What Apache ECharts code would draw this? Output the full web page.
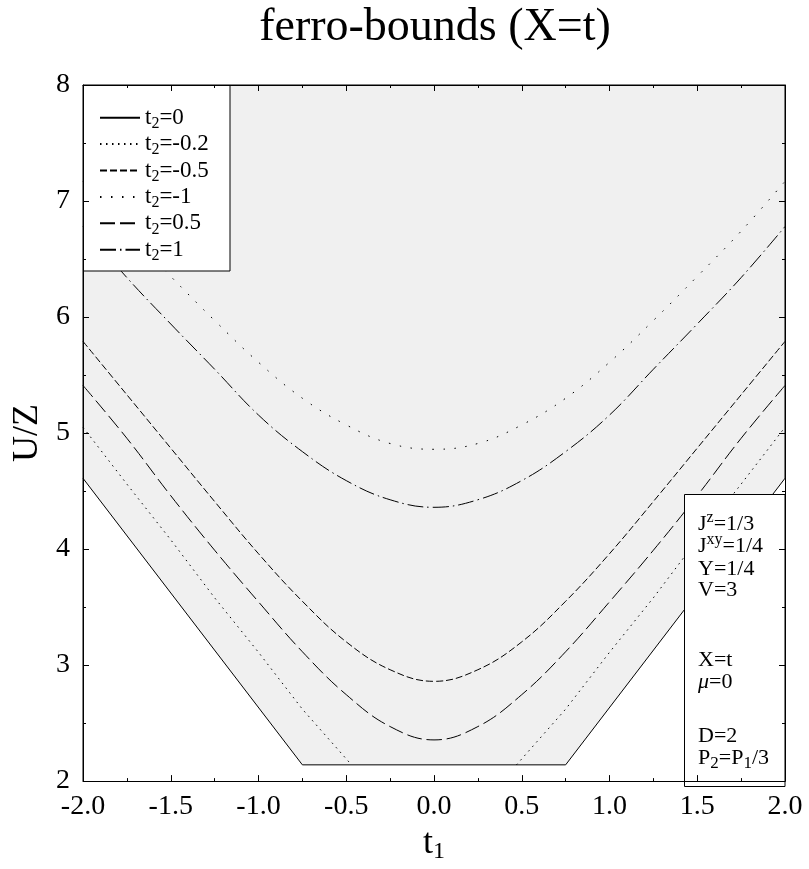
<!DOCTYPE html>
<html><head><meta charset="utf-8">
<script src="https://cdn.jsdelivr.net/npm/echarts@6/dist/echarts.min.js"></script>
<style>html,body{margin:0;padding:0;background:#fff}#c{width:809px;height:869px}</style>
</head><body><div id="c"></div>
<script>
const FONT = '"Liberation Serif","Times New Roman",serif';

// ---- data ----
const seriesNames = ['t2=0', 't2=-0.2', 't2=-0.5', 't2=-1', 't2=0.5', 't2=1'];

const t1Grid = [-2, -1.75, -1.5, -1.25, -1, -0.75, -0.5, -0.25, 0, 0.25, 0.5, 0.75, 1, 1.25, 1.5, 1.75, 2];

// t2 = 0 (solid, bounding line with flat floor)
const t1_t2_0 = [-2, -0.75, 0.75, 2];
const u_t2_0 = [4.61, 2.14, 2.14, 4.61];

// t2 = -0.2 (dense dotted, meets the floor)
const t1_t2_m02 = [-2, -1.75, -1.5, -1.25, -1, -0.75, -0.47, 0, 0.47, 0.75, 1, 1.25, 1.5, 1.75, 2];
const u_t2_m02 = [5.05, 4.56, 4.08, 3.58, 3.11, 2.62, 2.14, null, 2.14, 2.62, 3.11, 3.58, 4.08, 4.56, 5.05];

// t2 = -0.5 (short dashes)
const u_t2_m05 = [5.79, 5.33, 4.87, 4.41, 3.96, 3.55, 3.20, 2.96, 2.86, 2.96, 3.20, 3.55, 3.96, 4.41, 4.87, 5.33, 5.79];
// t2 = -1 (sparse dots)
const u_t2_m1 = [7.17, 6.74, 6.35, 5.97, 5.61, 5.30, 5.07, 4.91, 4.86, 4.91, 5.07, 5.30, 5.61, 5.97, 6.35, 6.74, 7.17];
// t2 = 0.5 (long dashes)
const u_t2_p05 = [5.41, 4.955, 4.46, 3.99, 3.545, 3.115, 2.745, 2.47, 2.355, 2.47, 2.745, 3.115, 3.545, 3.99, 4.46, 4.955, 5.41];
// t2 = 1 (dash-dot)
const u_t2_p1 = [6.78, 6.34, 5.94, 5.55, 5.155, 4.84, 4.59, 4.425, 4.36, 4.425, 4.59, 4.84, 5.155, 5.55, 5.94, 6.34, 6.78];

const xMin = -2, xMax = 2, xStep = 0.5;
const yMin = 2, yMax = 8, yStep = 1;

const titleText = 'ferro-bounds (X=t)';
const infoLines = [
  '{n|J}{sup|z}{n|=1/3}',
  '{n|J}{sup|xy}{n|=1/4}',
  '{n|Y=1/4}',
  '{n|V=3}',
  '{n|X=t}',
  '{i|μ}{n|=0}',
  '{n|D=2}',
  '{n|P}{sub|2}{n|=P}{sub|1}{n|/3}'
];
const infoY = [524, 546, 569, 590, 660, 682, 736, 758];

// ---- build ----
function pairs(xs, ys) { return xs.map((x, i) => [x, ys[i] == null ? '-' : ys[i]]); }

function mkSeries(name, data, dash, smooth, extra) {
  return Object.assign({
    name: name, type: 'line', data: data, symbol: 'none', showSymbol: false,
    smooth: smooth, connectNulls: false, clip: true, silent: true,
    lineStyle: { color: '#000', width: 1, type: dash, cap: 'butt' },
    itemStyle: { color: '#000' }
  }, extra || {});
}

const series = [
  mkSeries('t2=0', pairs(t1_t2_0, u_t2_0), 'solid', false, {
    areaStyle: { color: '#ffffff', opacity: 1, origin: 'start' }
  }),
  mkSeries('t2=-0.2', pairs(t1_t2_m02, u_t2_m02), [1.5, 4.5], false),
  mkSeries('t2=-0.5', pairs(t1Grid, u_t2_m05), [7, 3], 0.4),
  mkSeries('t2=-1', pairs(t1Grid, u_t2_m1), [1.5, 9.5], 0.4),
  mkSeries('t2=0.5', pairs(t1Grid, u_t2_p05), [15, 5], 0.4),
  mkSeries('t2=1', pairs(t1Grid, u_t2_p1), [16, 4, 1.5, 4], 0.4)
];

function axisCommon() {
  return {
    axisLine: { show: true, onZero: false, lineStyle: { color: '#000', width: 1 } },
    axisTick: { show: true, inside: true, length: 6, lineStyle: { color: '#000', width: 1 } },
    minorTick: { show: true, splitNumber: 2, length: 3, lineStyle: { color: '#000', width: 1 } },
    splitLine: { show: false }, minorSplitLine: { show: false }, z: 5
  };
}

const xBottom = Object.assign(axisCommon(), {
  type: 'value', min: xMin, max: xMax, interval: xStep, position: 'bottom',
  axisLabel: { show: true, margin: 12, fontSize: 28, color: '#000', fontFamily: FONT,
    formatter: v => v.toFixed(1) },
  name: '{t|t}{s|1}', nameLocation: 'middle', nameGap: 36,
  nameTextStyle: { color: '#000', fontFamily: FONT, rich: {
    t: { fontSize: 36, fontFamily: FONT, color: '#000' },
    s: { fontSize: 24, fontFamily: FONT, color: '#000', padding: [16, 0, 0, 0] } } }
});
const xTop = Object.assign(axisCommon(), {
  type: 'value', min: xMin, max: xMax, interval: xStep, position: 'top',
  axisLabel: { show: false }
});
const yLeft = Object.assign(axisCommon(), {
  type: 'value', min: yMin, max: yMax, interval: yStep, position: 'left',
  axisLabel: { show: true, margin: 13, fontSize: 28, color: '#000', fontFamily: FONT },
  name: 'U/Z', nameLocation: 'middle', nameRotate: 90, nameGap: 34,
  nameTextStyle: { fontSize: 36, color: '#000', fontFamily: FONT }
});
const yRight = Object.assign(axisCommon(), {
  type: 'value', min: yMin, max: yMax, interval: yStep, position: 'right',
  axisLabel: { show: false }
});

const legendRich = {
  t: { fontSize: 23, lineHeight: 26, fontFamily: FONT, color: '#000' },
  s: { fontSize: 16, lineHeight: 26, fontFamily: FONT, color: '#000', padding: [12, 0, 0, 0] }
};

const infoRich = {
  n: { fontSize: 22, fontFamily: FONT, fill: '#000', color: '#000' },
  i: { fontSize: 22, fontFamily: FONT, fontStyle: 'italic', fill: '#000', color: '#000' },
  sup: { fontSize: 16, fontFamily: FONT, fill: '#000', color: '#000', padding: [0, 0, 12, 0] },
  sub: { fontSize: 17, fontFamily: FONT, fill: '#000', color: '#000', padding: [12, 0, 0, 0] }
};

const graphics = [
  { type: 'text', x: 435, y: 28, z: 10,
    style: { text: titleText, fontSize: 46, fontFamily: FONT, fill: '#000', align: 'center', verticalAlign: 'middle' } },
  { type: 'rect', z: 5, shape: { x: 83.5, y: 85.5, width: 146.5, height: 185.5 },
    style: { fill: '#fff', stroke: '#000', lineWidth: 1 } },
  { type: 'rect', z: 5, shape: { x: 684.5, y: 494.5, width: 100.5, height: 292 },
    style: { fill: '#fff', stroke: '#000', lineWidth: 1 } }
];
infoLines.forEach((txt, k) => {
  graphics.push({ type: 'text', x: 698, y: infoY[k], z: 10,
    style: { text: txt, rich: infoRich, fontSize: 22, fontFamily: FONT, fill: '#000', align: 'left', verticalAlign: 'middle' } });
});

const chart = echarts.init(document.getElementById('c'), null, { renderer: 'canvas' });
chart.setOption({
  animation: false,
  backgroundColor: '#fff',
  grid: { left: 83, right: 24, top: 85, bottom: 82.5, show: true, backgroundColor: '#f0f0f0',
    borderColor: '#000', borderWidth: 1, containLabel: false },
  xAxis: [xBottom, xTop],
  yAxis: [yLeft, yRight],
  legend: {
    orient: 'vertical', left: 99, top: 103.7, padding: 0, z: 20,
    itemWidth: 40, itemHeight: 26, itemGap: -1.6, itemTextGap: 10,
    selectedMode: false, data: seriesNames,
    itemStyle: { color: 'rgba(0,0,0,0)', opacity: 0, borderWidth: 0 },
    formatter: n => '{t|t}{s|2}{t|' + n.slice(2) + '}',
    textStyle: { fontFamily: FONT, color: '#000', rich: legendRich }
  },
  series: series,
  graphic: { elements: graphics }
});
</script>
</body></html>
